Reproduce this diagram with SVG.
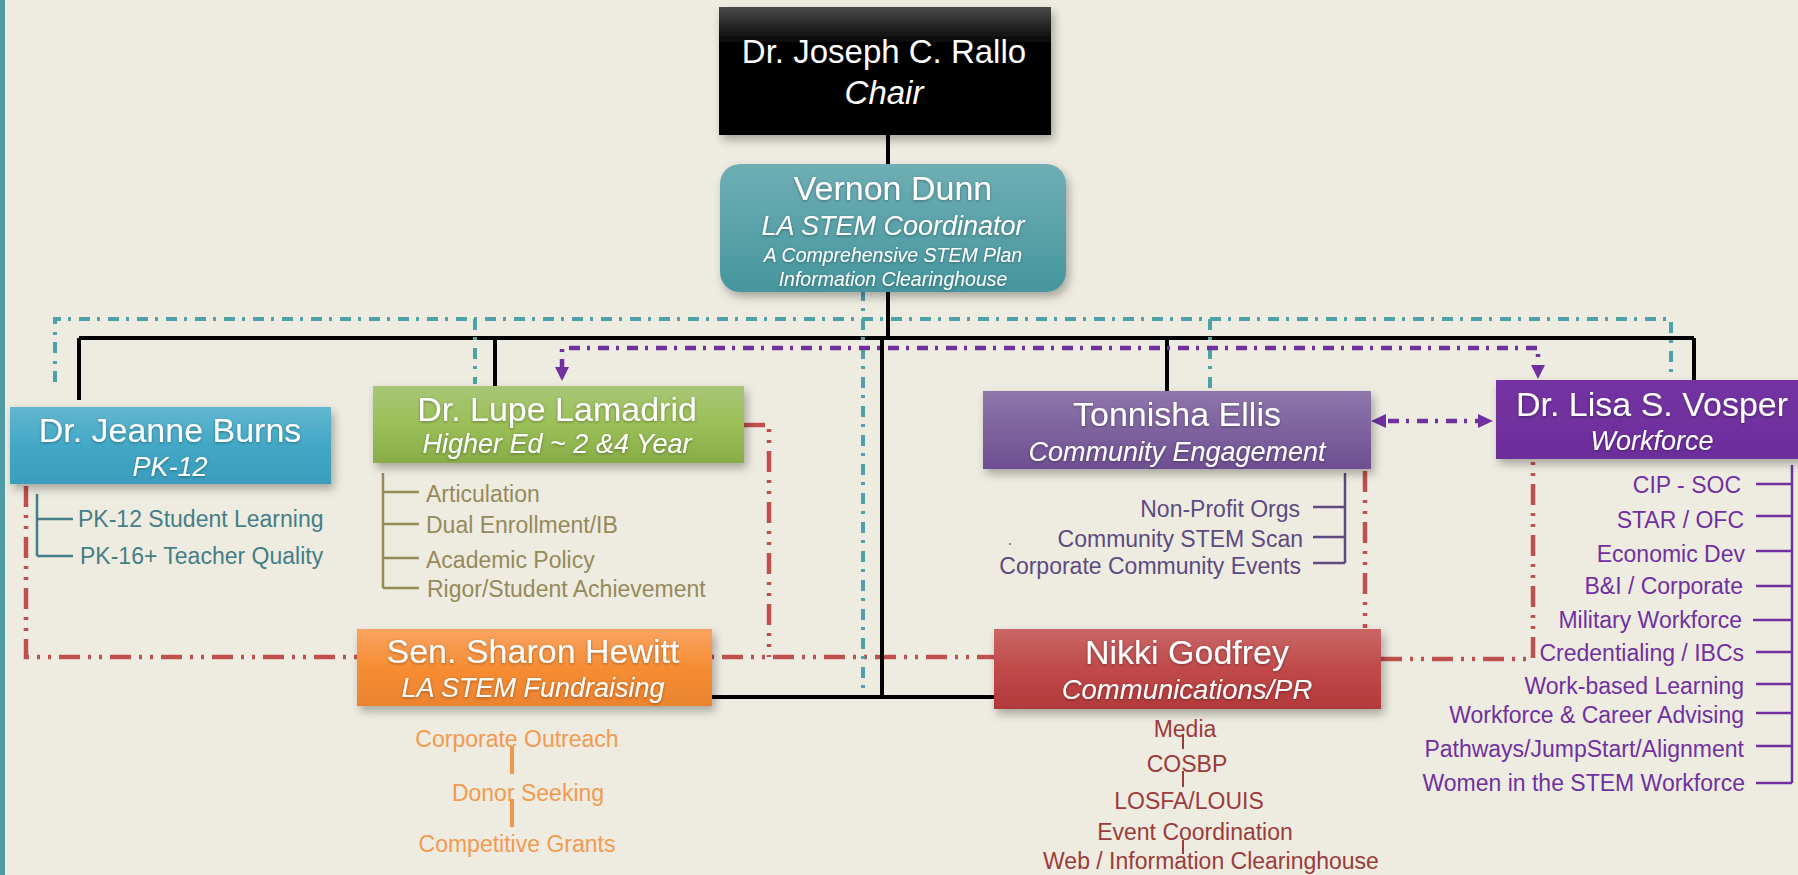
<svg xmlns="http://www.w3.org/2000/svg" width="1798" height="875" viewBox="0 0 1798 875">
<defs>
<linearGradient id="gChair" x1="0" y1="0" x2="0" y2="1"><stop offset="0" stop-color="#4a4a4a"/><stop offset="0.3" stop-color="#000"/><stop offset="1" stop-color="#000"/></linearGradient>
<linearGradient id="gTeal" x1="0" y1="0" x2="0" y2="1"><stop offset="0" stop-color="#6eaeb4"/><stop offset="1" stop-color="#46969d"/></linearGradient>
<linearGradient id="gBlue" x1="0" y1="0" x2="0" y2="1"><stop offset="0" stop-color="#63b6d0"/><stop offset="0.5" stop-color="#42a8c6"/><stop offset="1" stop-color="#3a9dbd"/></linearGradient>
<linearGradient id="gGreen" x1="0" y1="0" x2="0" y2="1"><stop offset="0" stop-color="#a8c677"/><stop offset="0.5" stop-color="#9bbf57"/><stop offset="1" stop-color="#88ad48"/></linearGradient>
<linearGradient id="gLav" x1="0" y1="0" x2="0" y2="1"><stop offset="0" stop-color="#8e76ab"/><stop offset="1" stop-color="#6d4f92"/></linearGradient>
<linearGradient id="gPurp" x1="0" y1="0" x2="0" y2="1"><stop offset="0" stop-color="#7432a2"/><stop offset="1" stop-color="#6c2e9c"/></linearGradient>
<linearGradient id="gOrange" x1="0" y1="0" x2="0" y2="1"><stop offset="0" stop-color="#f9a462"/><stop offset="0.5" stop-color="#f68d34"/><stop offset="1" stop-color="#ec832f"/></linearGradient>
<linearGradient id="gRed" x1="0" y1="0" x2="0" y2="1"><stop offset="0" stop-color="#c96766"/><stop offset="0.5" stop-color="#c0494a"/><stop offset="1" stop-color="#b3393a"/></linearGradient>
<filter id="sh" x="-10%" y="-20%" width="125%" height="150%"><feDropShadow dx="3" dy="5" stdDeviation="5" flood-color="#000" flood-opacity="0.3"/></filter>
<filter id="ts" x="-5%" y="-30%" width="110%" height="160%"><feDropShadow dx="0" dy="1" stdDeviation="1.5" flood-color="#000" flood-opacity="0.35"/></filter>
<marker id="aP" viewBox="0 0 10 10" refX="10" refY="5" markerWidth="3.3" markerHeight="3.3" orient="auto-start-reverse"><path d="M0,0 L10,5 L0,10 Z" fill="#7030a0"/></marker>
<style>
text{font-family:"Liberation Sans",Arial,sans-serif}
.name{fill:#fff;font-size:34px;text-anchor:middle}
.role{fill:#fff;font-size:27px;font-style:italic;text-anchor:middle}
.sm{fill:#fff;font-size:19.5px;font-style:italic;text-anchor:middle}
.it{font-size:23px}
.blk{stroke:#000;stroke-width:4;fill:none}
.teal{stroke:#4fa1a8;stroke-width:4;fill:none;stroke-dasharray:11 7 3 8}
.purp{stroke:#7030a0;stroke-width:4.5;fill:none;stroke-dasharray:11 7 3 8}
.red{stroke:#c0504d;stroke-width:4.5;fill:none;stroke-dasharray:21 8 3 8 3 8}
.br{fill:none;stroke-width:2.5}
</style>
</defs>
<rect width="1798" height="875" fill="#eeece1"/>
<rect x="0" y="0" width="5" height="875" fill="#4f9ca4"/>

<g id="connectors">
<path class="red" d="M26,486 V657 H994"/>
<path class="red" d="M744,425 H769 V657"/>
<path class="red" d="M1365,471 V628"/>
<path class="red" d="M1381,659 H1533 V461"/>
<path class="blk" d="M888,135 V165 M888,292 V338 M79,338 H1694 M79,338 V400 M495,338 V386 M1167,338 V391 M1694,338 V380 M882,338 V697 M712,697 H994"/>
<path class="teal" d="M55,382 V319 H1671 V378 M475,319 V384 M1210,319 V390 M863,290 V690"/>
<path class="purp" d="M562,370 V348 H1538 V368"/>
<path d="M555,367 L569,367 L562,381 Z" fill="#7030a0"/>
<path d="M1531,365 L1545,365 L1538,379 Z" fill="#7030a0"/>
<path class="purp" d="M1388,421 H1478"/>
<path d="M1371,421 L1386,414 L1386,428 Z" fill="#7030a0"/>
<path d="M1493,421 L1478,414 L1478,428 Z" fill="#7030a0"/>
<path class="br" stroke="#447e86" d="M37,494 V556 M37,519 H73 M37,556 H73"/>
<path class="br" stroke="#958a5a" d="M383,473 V588 M383,492 H419 M383,524 H419 M383,558 H419 M383,588 H419"/>
<path class="br" stroke="#5c4a80" d="M1345,473 V563 M1313,507 H1345 M1313,537 H1345 M1313,563 H1345"/>
<path class="br" stroke="#7030a0" d="M1792,465 V783 M1756,484 H1792 M1756,516 H1792 M1756,551 H1792 M1756,586 H1792 M1753,620 H1792 M1756,652 H1792 M1756,684 H1792 M1756,713 H1792 M1756,746 H1792 M1756,783 H1792"/>
<path stroke="#f0964a" stroke-width="4" d="M512,747 V774 M512,799 V827"/>
<path stroke="#9c3b3b" stroke-width="2" d="M1183,735 V749 M1183,771 V787 M1183,840 V854"/>
<rect x="1009" y="543" width="2" height="2" fill="#4fa1a8"/>
</g>

<g id="chair">
<rect x="719" y="7" width="332" height="128" fill="url(#gChair)" filter="url(#sh)"/>
<text class="name" x="884" y="63" style="font-size:33px">Dr. Joseph C. Rallo</text>
<text class="role" x="884" y="104" style="font-size:33px">Chair</text>
</g>

<g id="vernon">
<rect x="720" y="164" width="346" height="128" rx="20" fill="url(#gTeal)" filter="url(#sh)"/>
<g filter="url(#ts)">
<text class="name" x="893" y="200">Vernon Dunn</text>
<text class="role" x="893" y="235">LA STEM Coordinator</text>
<text class="sm" x="893" y="262">A Comprehensive STEM Plan</text>
<text class="sm" x="893" y="286">Information Clearinghouse</text>
</g>
</g>

<g id="burns">
<rect x="10" y="407" width="321" height="77" fill="url(#gBlue)" filter="url(#sh)"/>
<g filter="url(#ts)">
<text class="name" x="170" y="442">Dr. Jeanne Burns</text>
<text class="role" x="170" y="476">PK-12</text>
</g>
<text class="it" fill="#447e86" x="78" y="527">PK-12 Student Learning</text>
<text class="it" fill="#447e86" x="80" y="564">PK-16+ Teacher Quality</text>
</g>

<g id="lamadrid">
<rect x="373" y="386" width="371" height="77" fill="url(#gGreen)" filter="url(#sh)"/>
<g filter="url(#ts)">
<text class="name" x="557" y="421">Dr. Lupe Lamadrid</text>
<text class="role" x="557" y="453">Higher Ed ~ 2 &amp;4 Year</text>
</g>
<g class="it" fill="#958a5a">
<text x="426" y="502">Articulation</text>
<text x="426" y="533">Dual Enrollment/IB</text>
<text x="426" y="568">Academic Policy</text>
<text x="427" y="597">Rigor/Student Achievement</text>
</g>
</g>

<g id="ellis">
<rect x="983" y="391" width="388" height="78" fill="url(#gLav)" filter="url(#sh)"/>
<g filter="url(#ts)">
<text class="name" x="1177" y="426">Tonnisha Ellis</text>
<text class="role" x="1177" y="461">Community Engagement</text>
</g>
<g class="it" fill="#5c4a80" text-anchor="end">
<text x="1300" y="517">Non-Profit Orgs</text>
<text x="1303" y="547">Community STEM Scan</text>
<text x="1301" y="574">Corporate Community Events</text>
</g>
</g>

<g id="vosper">
<rect x="1496" y="380" width="320" height="79" fill="url(#gPurp)" filter="url(#sh)"/>
<g filter="url(#ts)">
<text class="name" x="1652" y="416">Dr. Lisa S. Vosper</text>
<text class="role" x="1652" y="450">Workforce</text>
</g>
<g class="it" fill="#7030a0" text-anchor="end">
<text x="1741" y="493">CIP - SOC</text>
<text x="1744" y="528">STAR / OFC</text>
<text x="1745" y="562">Economic Dev</text>
<text x="1743" y="594">B&amp;I / Corporate</text>
<text x="1742" y="628">Military Workforce</text>
<text x="1744" y="661">Credentialing / IBCs</text>
<text x="1744" y="694">Work-based Learning</text>
<text x="1744" y="723">Workforce &amp; Career Advising</text>
<text x="1744" y="757">Pathways/JumpStart/Alignment</text>
<text x="1745" y="791">Women in the STEM Workforce</text>
</g>
</g>

<g id="hewitt">
<rect x="357" y="629" width="355" height="77" fill="url(#gOrange)" filter="url(#sh)"/>
<g filter="url(#ts)">
<text class="name" x="533" y="663">Sen. Sharon Hewitt</text>
<text class="role" x="533" y="697">LA STEM Fundraising</text>
</g>
<g class="it" fill="#f39a4f" text-anchor="middle">
<text x="517" y="747">Corporate Outreach</text>
<text x="528" y="801">Donor Seeking</text>
<text x="517" y="852">Competitive Grants</text>
</g>
</g>

<g id="godfrey">
<rect x="994" y="629" width="387" height="80" fill="url(#gRed)" filter="url(#sh)"/>
<g filter="url(#ts)">
<text class="name" x="1187" y="664">Nikki Godfrey</text>
<text class="role" x="1187" y="699" style="font-size:27.5px">Communications/PR</text>
</g>
<g class="it" fill="#9c3b3b" text-anchor="middle">
<text x="1185" y="737">Media</text>
<text x="1187" y="772">COSBP</text>
<text x="1189" y="809">LOSFA/LOUIS</text>
<text x="1195" y="840">Event Coordination</text>
<text x="1211" y="869">Web / Information Clearinghouse</text>
</g>
</g>
</svg>
